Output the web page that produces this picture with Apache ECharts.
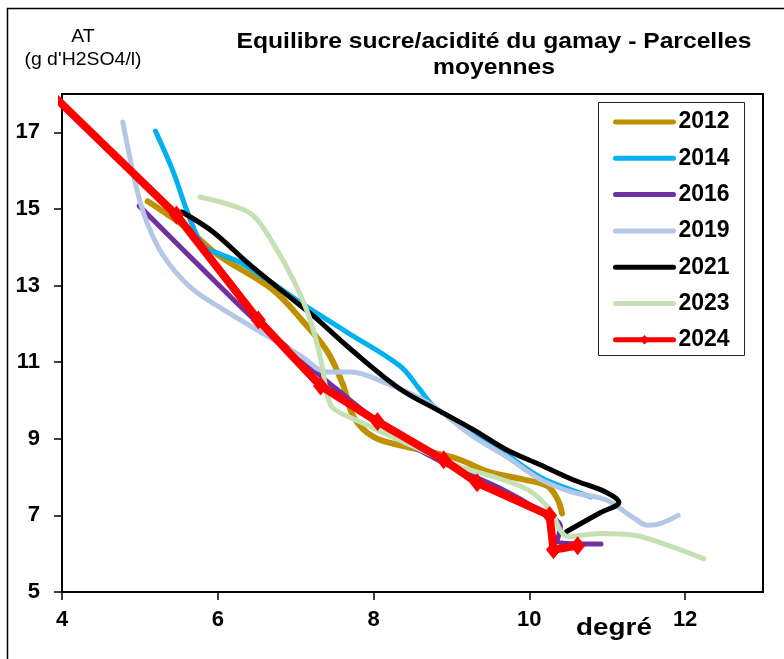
<!DOCTYPE html>
<html><head><meta charset="utf-8">
<script src="https://cdn.jsdelivr.net/npm/echarts@6/dist/echarts.min.js"></script>
<style>html,body{margin:0;padding:0;background:#fff}#c{width:784px;height:659px}</style>
</head><body><div id="c"></div>
<script>
const years = ['2012','2014','2016','2019','2021','2023','2024'];
const colors = ['#BF9000','#00B0F0','#7030A0','#B4C7E7','#000000','#C5E0B4','#FF0000'];
const xTicks = [4,6,8,10,12];
const yTicks = [5,7,9,11,13,15,17];

const d2012 = [[5.1,15.2],[5.6,14.5],[6.0,13.8],[6.7,12.9],[7.1,12.05],[7.4,11.3],[7.6,10.45],[7.75,9.55],[8.0,9.05],[8.4,8.8],[8.85,8.6],[9.1,8.46],[9.5,8.12],[9.92,7.94],[10.23,7.77],[10.36,7.43],[10.42,7.05]];
const d2014 = [[5.2,17.03],[5.43,15.96],[5.61,14.92],[5.81,14.04],[6.03,13.82],[6.29,13.6],[6.71,13.05],[7.1,12.5],[7.66,11.78],[8.34,10.9],[8.6,10.27],[8.77,9.85],[9.1,9.4],[9.7,8.6],[10.14,8.0],[10.56,7.65],[10.79,7.48]];
const d2016 = [[4.99,15.08],[5.77,13.5],[6.46,12.13],[7.06,11.1],[7.49,10.35],[8.35,9.0],[8.89,8.38],[9.63,7.7],[10.15,7.1],[10.4,6.7],[10.35,6.3],[10.92,6.25]];
const d2019 = [[4.78,17.27],[4.96,15.52],[5.09,14.65],[5.3,13.78],[5.65,12.95],[6.12,12.31],[6.63,11.69],[7.06,11.17],[7.41,10.74],[7.7,10.74],[8.13,10.48],[8.69,9.95],[9.28,9.06],[9.7,8.54],[10.14,7.94],[10.56,7.6],[10.99,7.4],[11.35,6.92],[11.52,6.74],[11.7,6.8],[11.91,7.0]];
const d2021 = [[5.54,14.92],[5.94,14.4],[6.38,13.6],[6.8,12.9],[7.23,12.2],[7.7,11.35],[8.34,10.3],[8.85,9.72],[9.28,9.24],[9.7,8.72],[10.14,8.32],[10.56,7.93],[10.99,7.6],[11.15,7.34],[10.91,7.07],[10.48,6.58]];
const d2023 = [[5.77,15.31],[6.2,15.08],[6.46,14.82],[6.71,14.1],[6.97,13.15],[7.17,12.2],[7.32,11.1],[7.41,10.1],[7.49,9.78],[7.83,9.44],[8.35,8.95],[9.07,8.3],[9.63,7.95],[10.0,7.65],[10.28,7.1],[10.4,6.6],[10.49,6.45],[10.92,6.53],[11.35,6.48],[11.78,6.22],[12.24,5.87]];
const d2024 = [[3.8,18.13],[5.47,14.84],[6.52,12.1],[7.32,10.38],[8.05,9.45],[8.9,8.45],[9.33,7.85],[10.26,7.0],[10.31,6.1],[10.62,6.21]];

const FONT = "'Liberation Sans', Arial, sans-serif";
const dataSets = [d2012,d2014,d2016,d2019,d2021,d2023,d2024];
const widths = [6,5,5,5,5,5,8];

const chart = echarts.init(document.getElementById('c'));
const series = years.map((y,i)=>{
  const isRed = i===6;
  return {
    name:y, type:'line', data:dataSets[i],
    smooth: isRed ? false : 0.35,
    symbol: isRed ? 'diamond' : 'none',
    symbolSize: [15,19], showSymbol: isRed, clip:true,
    lineStyle:{color:colors[i], width:widths[i], cap:'round', join:'round'},
    itemStyle:{color:colors[i]},
    z: 2+i, animation:false, emphasis:{disabled:true}
  };
});

chart.setOption({
  animation:false,
  color: colors,
  grid:{left:62, right:21, top:94, bottom:67, show:true, borderColor:'#000', borderWidth:2, containLabel:false, outerBoundsMode:'none'},
  xAxis:{type:'value', min:4, max:13,
    axisLine:{show:true, onZero:false, lineStyle:{color:'#000', width:2}},
    axisTick:{show:true, length:8, customValues:xTicks, lineStyle:{color:'#000', width:1.5}},
    axisLabel:{customValues:xTicks, fontSize:22, fontWeight:'bold', color:'#000', fontFamily:FONT, margin:17},
    splitLine:{show:false}},
  yAxis:{type:'value', min:5, max:18,
    axisLine:{show:true, onZero:false, lineStyle:{color:'#000', width:2}},
    axisTick:{show:true, length:8, customValues:yTicks, lineStyle:{color:'#000', width:1.5}},
    axisLabel:{customValues:yTicks, fontSize:22, fontWeight:'bold', color:'#000', fontFamily:FONT, margin:22},
    splitLine:{show:false}},
  legend:{orient:'vertical', left:613, top:110.5, padding:0, itemWidth:58, itemHeight:12, itemGap:13.3, z:80,
    textStyle:{fontSize:23, fontWeight:'bold', color:'#000', fontFamily:FONT, lineHeight:23},
    data: years.map((y,i)=> i===6
      ? {name:y, lineStyle:{width:5}}
      : {name:y, lineStyle:{width:5}, itemStyle:{opacity:0}}),
    selectedMode:false},
  graphic:[
    {type:'rect', shape:{x:7.5, y:8.5, width:800, height:700}, style:{fill:'none', stroke:'#000', lineWidth:1.5}, silent:true},
    {type:'rect', shape:{x:598.5, y:102.5, width:146, height:253}, style:{fill:'#fff', stroke:'#222', lineWidth:1}, z:50, silent:true},
    {type:'text', x:494, y:29, z:60, scaleX:1.12, style:{text:'Equilibre sucre/acidité du gamay - Parcelles\nmoyennes', align:'center', verticalAlign:'top', fontSize:22, fontWeight:'bold', fontFamily:FONT, fill:'#000', lineHeight:26}},
    {type:'text', x:83, y:25.5, z:60, scaleX:1.08, style:{text:"AT\n(g d'H2SO4/l)", align:'center', verticalAlign:'top', fontSize:18, fontFamily:FONT, fill:'#000', lineHeight:23}},
    {type:'text', x:614, y:628, z:60, scaleX:1.16, style:{text:'degré', align:'center', verticalAlign:'middle', fontSize:24, fontWeight:'bold', fontFamily:FONT, fill:'#000'}}
  ],
  series: series
});
</script></body></html>
